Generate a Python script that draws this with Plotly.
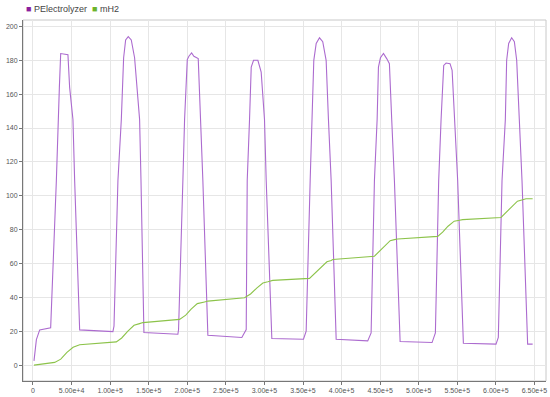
import plotly.graph_objects as go

# PElectrolyzer trace (time in s, power)
p_time = [
    1300, 4400, 8700, 22900, 30300, 32400, 34200, 35900, 40000, 45300, 47500, 51800, 54000, 60500, 103600,
    105000, 110100, 114500, 117500, 120100, 123500, 127400, 131700, 135000, 138200, 140000, 143800, 187800,
    188700, 194300, 196500, 200000, 202100, 205600, 208600, 214200, 217200, 220200, 226700, 270700,
    276400, 277700, 280700, 282900, 285900, 291500, 295800, 300100, 302300, 309600, 350600,
    354100, 359300, 361900, 364000, 367100, 371400, 375600, 380000, 383000, 386500, 393000, 433900,
    438300, 442600, 446100, 447800, 450400, 454300, 458500, 462000, 465000, 468500, 475900, 517300,
    521600, 525900, 529000, 532400, 535500, 540600, 543300, 546200, 550500, 557900, 600200,
    603200, 608000, 612300, 614000, 616600, 620500, 624000, 627000, 630400, 633900, 641200, 647700,
]
p_value = [
    2.5, 15, 20.8, 22, 109, 145, 164, 184, 183.5, 183.3, 164, 145, 109, 20.8, 19.8,
    23, 109, 145, 181.5, 192, 194, 192, 181.5, 164, 145, 109, 19.2, 18.2,
    21, 109, 145, 180.4, 182.4, 184.3, 182.4, 181, 145, 109, 17.6, 16.3,
    21, 109, 145, 176, 180, 180, 173, 145, 109, 15.7, 15.3,
    20, 109, 145, 180, 190, 193.3, 191, 180, 145, 109, 15.3, 14.3,
    19, 109, 145, 176, 181.5, 184, 181, 178, 145, 109, 13.9, 13.3,
    19, 109, 145, 177, 178.4, 178, 174, 145, 109, 12.9, 12.4,
    16.3, 109, 145, 180, 190, 193.3, 191, 180, 145, 109, 12.4, 12.4,
]

# mH2 trace
h_time = [
    1300, 28100, 36000, 44000, 52000, 58300, 60500,
    108000, 115000, 123000, 131000, 138200, 142500,
    190000, 198000, 205000, 213000, 222400, 226700,
    274200, 282000, 290000, 298000, 304400, 310900,
    358400, 365000, 373000, 381000, 386500, 388600,
    442600, 449000, 456000, 463000, 468500, 472800,
    524600, 531000, 538000, 546000, 552700, 557000,
    606700, 613000, 620000, 628000, 634700, 639100, 647700,
]
h_value = [
    0, 1.6, 3.5, 7.5, 10.5, 11.4, 12,
    13.7, 16, 20, 23.5, 24.5, 25.1,
    27, 29.5, 33, 36.3, 37.3, 37.8,
    39.8, 42, 45.5, 48.5, 49.2, 50,
    51.2, 54, 58, 61, 61.8, 62.4,
    64.3, 67, 70.5, 73.5, 74.1, 74.5,
    76, 78.5, 82, 85, 85.5, 85.9,
    87.2, 90, 93.5, 96.8, 97.6, 98.2, 98.2,
]

x_ticks = [i * 50000 for i in range(14)]
x_labels = ["0"] + [f"{v:.2e}".replace("e+0", "e+") for v in x_ticks[1:]]
y_ticks = list(range(0, 201, 20))

fig = go.Figure()

fig.add_trace(go.Scatter(
    x=p_time, y=p_value, mode="lines", name="PElectrolyzer",
    line=dict(color="#ac6bcf", width=1.1)
))
fig.add_trace(go.Scatter(
    x=h_time, y=h_value, mode="lines", name="mH2",
    line=dict(color="#8cc34a", width=1.1)
))

# legend drawn as text with coloured squares
legend_text = (
    "<span style='color:#8b1f9e'>■</span> PElectrolyzer  "
    "<span style='color:#6cb32a'>■</span> mH2"
)

fig.update_layout(
    width=550,
    height=397,
    showlegend=False,
    paper_bgcolor="white",
    plot_bgcolor="white",
    font=dict(family="Liberation Sans, Arial, sans-serif", size=7, color="#555555"),
    margin=dict(l=23, r=3, t=20, b=14),
    annotations=[dict(
        text=legend_text, xref="paper", yref="paper", x=0.0, y=1.0,
        xanchor="left", yanchor="bottom", yshift=4, xshift=1, showarrow=False,
        font=dict(size=9, color="#444444")
    )],
    shapes=[dict(
        type="rect", xref="paper", yref="paper", x0=0, x1=1, y0=0, y1=1,
        line=dict(color="#c8c8c8", width=1), layer="below"
    )],
    xaxis=dict(
        range=[-12950, 665000],
        tickvals=x_ticks, ticktext=x_labels,
        tickfont=dict(color="#555555", size=7),
        showgrid=True, gridcolor="#e6e6e6", gridwidth=1,
        zeroline=False, showline=True, linecolor="#777777", linewidth=1,
        ticks="outside", ticklen=3, tickcolor="#777777",
    ),
    yaxis=dict(
        range=[-9.4, 203.8],
        tickvals=y_ticks,
        tickfont=dict(color="#555555", size=7),
        showgrid=True, gridcolor="#e6e6e6", gridwidth=1,
        zeroline=False, showline=True, linecolor="#777777", linewidth=1,
        ticks="outside", ticklen=3, tickcolor="#777777",
    ),
)

fig.write_html(
    "out.html",
    config={"displayModeBar": False},
    post_script="document.body.style.margin='0';",
)
